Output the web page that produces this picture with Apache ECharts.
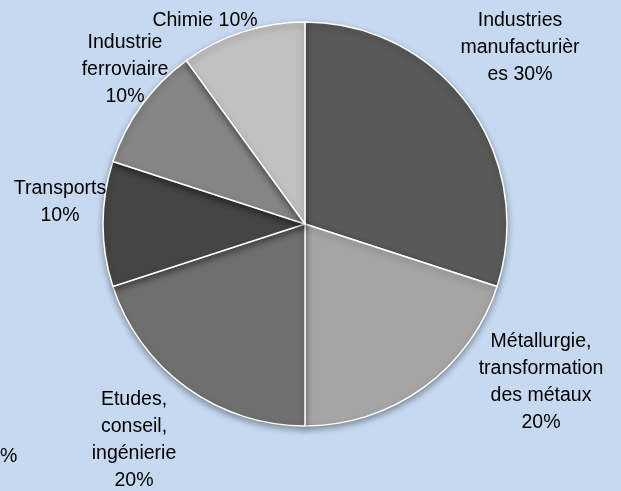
<!DOCTYPE html>
<html>
<head>
<meta charset="utf-8">
<style>
  html, body { margin: 0; padding: 0; background: #c6d9f0; }
  #chart { width: 621px; height: 491px; }
</style>
<script src="https://cdn.jsdelivr.net/npm/echarts@6/dist/echarts.min.js"></script>
</head>
<body>
<div id="chart"></div>
<script>
// Sector breakdown (share of total, %)
const categories = [
  'Industries\nmanufacturièr\nes',
  'Métallurgie,\ntransformation\ndes métaux',
  'Etudes,\nconseil,\ningénierie',
  'Transports',
  'Industrie\nferroviaire',
  'Chimie'
];
const shares = [30, 20, 20, 10, 10, 10];
const sliceColors = ['#595959', '#a5a5a5', '#6f6f6f', '#454545', '#858585', '#c0c0c0'];
// separator between name and value (same line or new line)
const labelJoin = ['\u0020', '\n', '\n', '\n', '\n', '\u0020'];

// Label anchor points (centre of each text block)
const labelSpots = [
  [520, 48], [541, 382], [134, 440], [60, 202], [125, 70], [205, 21]
];

const chart = echarts.init(document.getElementById('chart'));

chart.setOption({
  backgroundColor: '#c6d9f0',
  animation: false,
  graphic: [{
    type: 'text',
    left: 0,
    top: 447,
    style: { text: '%', font: '19.5px "Liberation Sans", Arial, sans-serif', fill: '#000' }
  }],
  series: [{
    type: 'pie',
    center: [305, 224],
    radius: 202,
    startAngle: 90,
    clockwise: true,
    avoidLabelOverlap: false,
    itemStyle: {
      borderColor: '#ffffff',
      borderWidth: 1.5,
      shadowBlur: 6,
      shadowOffsetY: 3,
      shadowColor: 'rgba(0,0,0,0.35)'
    },
    label: {
      show: true,
      position: 'outside',
      color: '#000',
      fontFamily: '"Liberation Sans", Arial, sans-serif',
      fontSize: 19.5,
      lineHeight: 27,
      align: 'center',
      overflow: 'none',
      width: 200,
      formatter: p => p.name + labelJoin[p.dataIndex] + p.value + '%'
    },
    labelLine: { show: false },
    labelLayout: p => ({
      x: labelSpots[p.dataIndex][0],
      y: labelSpots[p.dataIndex][1],
      align: 'center',
      verticalAlign: 'middle'
    }),
    data: categories.map((c, i) => ({
      name: c,
      value: shares[i],
      itemStyle: { color: sliceColors[i] }
    }))
  }]
});
</script>
</body>
</html>
